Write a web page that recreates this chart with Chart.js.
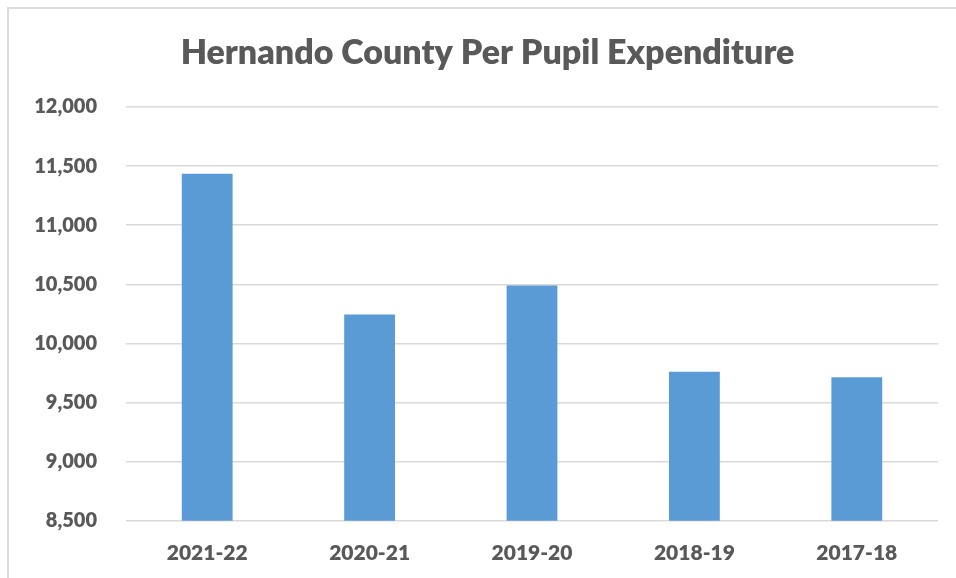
<!DOCTYPE html>
<html>
<head>
<meta charset="utf-8">
<script src="https://cdn.jsdelivr.net/npm/chart.js@4/dist/chart.umd.min.js"></script>
<style>
  html, body { margin: 0; padding: 0; background: #fff; }
  #wrap { position: relative; width: 956px; height: 578px; overflow: hidden; }
  #c { position: absolute; left: 0; top: 0; }
  #frame { position: absolute; left: 7px; top: 7px; width: 1100px; height: 1000px;
           border: 2px solid #dcdcdc; pointer-events: none; box-sizing: border-box; }
</style>
</head>
<body>
<div id="wrap">
  <canvas id="c" width="956" height="578"></canvas>
  <div id="frame"></div>
</div>
<script>
const titleText = "Hernando County Per Pupil Expenditure";
const categories = ["2021-22", "2020-21", "2019-20", "2018-19", "2017-18"];
const expenditure = [11435, 10245, 10490, 9760, 9713];
const yMin = 8500;
const yMax = 12000;
const yStep = 500;

const textColor = "#595959";
const gridColor = "#d9d9d9";
const fontWeight = "800";

const titlePlugin = {
  id: "centeredTitle",
  afterDraw(chart) {
    const ctx = chart.ctx;
    ctx.save();
    ctx.font = fontWeight + " 34px Lato";
    ctx.fillStyle = textColor;
    ctx.textAlign = "center";
    ctx.textBaseline = "alphabetic";
    ctx.fillText(titleText, 487.5, 63.5);
    ctx.restore();
  }
};

new Chart(document.getElementById("c"), {
  type: "bar",
  data: {
    labels: categories,
    datasets: [{
      data: expenditure,
      backgroundColor: "#5B9BD5",
      borderWidth: 0,
      barPercentage: 0.313,
      categoryPercentage: 1.0
    }]
  },
  plugins: [titlePlugin],
  options: {
    responsive: false,
    animation: false,
    devicePixelRatio: 1,
    layout: { padding: { top: 107, right: 18, bottom: 0, left: 0 } },
    plugins: {
      legend: { display: false },
      tooltip: { enabled: false },
      title: { display: false }
    },
    scales: {
      x: {
        grid: { display: false, drawTicks: false },
        border: { display: false },
        ticks: {
          color: textColor,
          font: { family: "Lato", weight: fontWeight, size: 21 },
          padding: 20,
          maxRotation: 0
        },
        afterFit: (s) => { s.height = 57.3; }
      },
      y: {
        min: yMin,
        max: yMax,
        grid: { color: gridColor, lineWidth: 1.5, drawTicks: false },
        border: { display: false },
        ticks: {
          stepSize: yStep,
          color: textColor,
          font: { family: "Lato", weight: fontWeight, size: 20 },
          padding: 29,
          callback: (v) => v.toLocaleString("en-US")
        },
        afterFit: (s) => { s.width = 126; }
      }
    }
  }
});
</script>
</body>
</html>
